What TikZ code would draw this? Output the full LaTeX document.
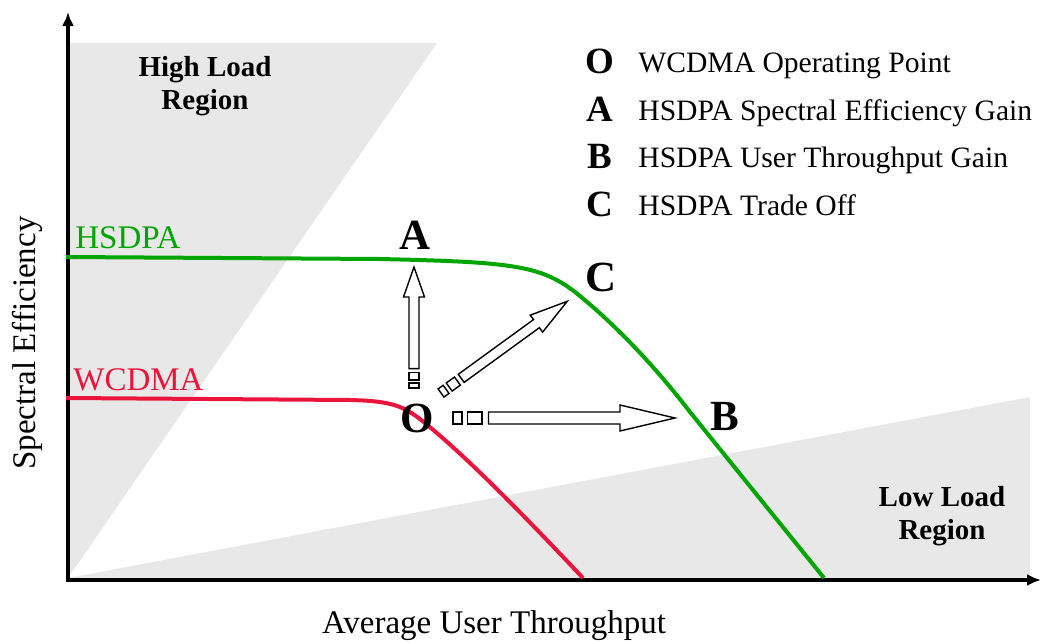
\documentclass[tikz,border=0pt]{standalone}
\usepackage{fontspec}
\setmainfont{Liberation Serif}
\usetikzlibrary{arrows.meta}

\definecolor{hsdpagreen}{RGB}{0,165,0}
\definecolor{wcdmared}{RGB}{235,20,60}
\definecolor{regiongray}{RGB}{232,232,232}

\tikzset{
	axisline/.style={line width=1.6pt},
	curveline/.style={line width=2pt},
	arrowline/.style={line width=0.7pt, line join=miter},
	regionfill/.style={fill=regiongray},
	regionlabel/.style={font=\fontsize{14.5}{16.5}\selectfont\bfseries, align=center, inner sep=0pt},
	pointlabel/.style={font=\fontsize{21.5}{24}\selectfont\bfseries, inner sep=0pt},
	curvelabel/.style={font=\fontsize{16.5}{19}\selectfont, anchor=base west, inner sep=0pt},
	legendkey/.style={font=\fontsize{18.5}{20}\selectfont\bfseries, anchor=base, inner sep=0pt},
	legendtext/.style={font=\fontsize{14.8}{17}\selectfont, anchor=base west, inner sep=0pt},
	axislabel/.style={font=\fontsize{16.5}{19}\selectfont, anchor=base, inner sep=0pt},
	pics/gainarrow/.style n args={4}{code={
		\pgfmathsetmacro\tailA{0.04*#1}
		\pgfmathsetmacro\tailB{0.065*#1}
		\pgfmathsetmacro\tailC{0.13*#1}
		\pgfmathsetmacro\shaftA{0.16*#1}
		\pgfmathsetmacro\headA{#1-#2}
		\draw[arrowline] (0,-#3) rectangle (\tailA,#3);
		\draw[arrowline] (\tailB,-#3) rectangle (\tailC,#3);
		\draw[arrowline,fill=white] (\shaftA,-#3) -- (\headA,-#3) -- (\headA,-#4) -- (#1,0)
			-- (\headA,#4) -- (\headA,#3) -- (\shaftA,#3) -- cycle;
	}}
}

\begin{document}
\begin{tikzpicture}[x=0.5pt,y=-0.5pt]
	\useasboundingbox (0,0) rectangle (1041,643);

	% regions
	\fill[regionfill] (68,43) -- (437,43) -- (68,578) -- cycle;
	\fill[regionfill] (68,578) -- (1030,397) -- (1030,578) -- cycle;
	\node[regionlabel] (highload) at (205,86) {High Load\\Region};
	\node[regionlabel] (lowload) at (942,516) {Low Load\\Region};

	% axes
	\draw[axisline,-{Latex[length=7pt,width=6pt]}] (68,582) -- (68,12);
	\draw[axisline,-{Latex[length=7pt,width=6pt]}] (66,580) -- (1041,580);
	\node[axislabel,rotate=90] (ylabel) at (35,343) {Spectral Efficiency};
	\node[axislabel] (xlabel) at (494,633) {Average User Throughput};

	% curves
	\draw[curveline,hsdpagreen] (66,257) -- (380,259) .. controls (510,262) and (540,265) .. (575,292)
		.. controls (610,320) and (650,360) .. (690,412) -- (824,578);
	\draw[curveline,wcdmared] (66,398) -- (350,400) .. controls (395,401) and (405,407) .. (425,423)
		.. controls (460,452) and (500,490) .. (583,578);
	\node[curvelabel,text=hsdpagreen] (hsdpa) at (75,248) {HSDPA};
	\node[curvelabel,text=wcdmared] (wcdma) at (73,390) {WCDMA};

	% gains
	\pic[rotate=90] at (414,388) {gainarrow={121}{30}{5}{10.5}};
	\pic[rotate=36] at (441,393) {gainarrow={156}{38}{5}{10.5}};
	\pic at (453,418) {gainarrow={222}{55}{6}{13}};

	\node[pointlabel] (O) at (417,418) {O};
	\node[pointlabel] (A) at (415,235) {A};
	\node[pointlabel] (B) at (725,416) {B};
	\node[pointlabel] (C) at (601,277) {C};

	% legend
	\foreach \k/\txt [count=\i] in {O/WCDMA Operating Point, A/HSDPA Spectral Efficiency Gain,
		B/HSDPA User Throughput Gain, C/HSDPA Trade Off} {
		\node[legendkey] (key\k) at (600,{26+47.5*\i}) {\k};
		\node[legendtext] (entry\k) at (638,{25+47.5*\i}) {\txt};
	}
\end{tikzpicture}
\end{document}
